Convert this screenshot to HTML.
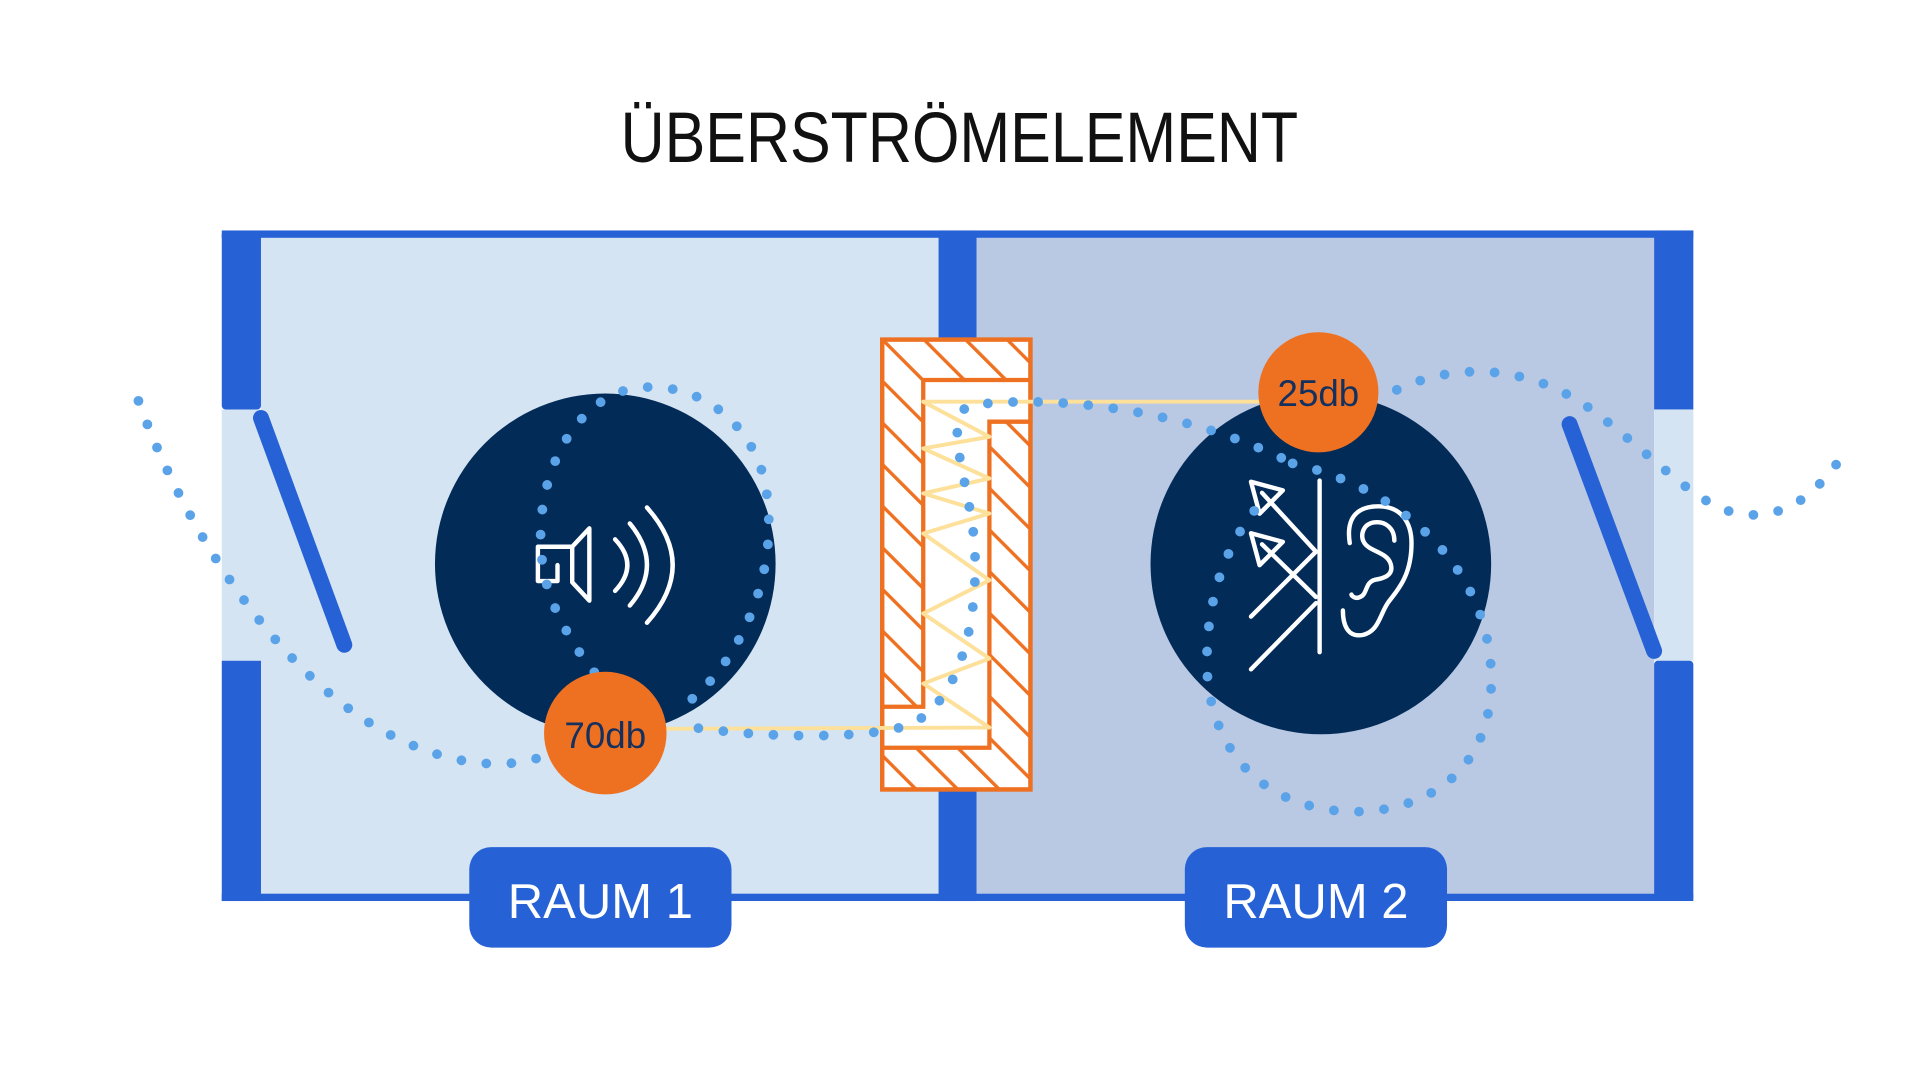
<!DOCTYPE html>
<html><head><meta charset="utf-8"><style>
html,body{margin:0;padding:0;background:#fff;width:1920px;height:1080px;overflow:hidden}
svg{display:block}
</style></head><body>
<svg width="1920" height="1080" viewBox="0 0 1567 881" preserveAspectRatio="none" xmlns="http://www.w3.org/2000/svg">
<defs>
<pattern id="h" patternUnits="userSpaceOnUse" width="24" height="24" patternTransform="rotate(-45)">
<rect width="24" height="24" fill="#fff"/>
<line x1="0" y1="0" x2="0" y2="24" stroke="#ee7122" stroke-width="5.5"/>
</pattern>
</defs>
<rect width="1567" height="881" fill="#fff"/>
<text x="783" y="132" text-anchor="middle" font-family="Liberation Sans, sans-serif" font-size="58" textLength="553" lengthAdjust="spacingAndGlyphs" fill="#111">ÜBERSTRÖMELEMENT</text>

<rect x="213" y="194" width="553" height="535" fill="#d4e4f3"/>
<rect x="797" y="194" width="553" height="535" fill="#b9c8e3"/>
<rect x="181" y="334" width="32" height="205" fill="#d4e4f3"/>
<rect x="1350" y="334" width="32" height="205" fill="#d4e4f3"/>
<rect x="181" y="188" width="1201" height="6" fill="#2662d6"/>
<rect x="181" y="729" width="1201" height="6" fill="#2662d6"/>
<rect x="181" y="188" width="32" height="146" rx="3" fill="#2662d6"/>
<rect x="181" y="539" width="32" height="196" fill="#2662d6"/>
<rect x="1350" y="188" width="32" height="146" fill="#2662d6"/>
<rect x="1350" y="539" width="32" height="196" rx="3" fill="#2662d6"/>
<rect x="766" y="188" width="31" height="547" fill="#2662d6"/>
<line x1="213" y1="341" x2="281" y2="526" stroke="#2662d6" stroke-width="13" stroke-linecap="round"/>
<line x1="1281" y1="346" x2="1350" y2="531" stroke="#2662d6" stroke-width="13" stroke-linecap="round"/>

<circle cx="494" cy="460" r="139" fill="#022b58"/>
<circle cx="1078" cy="460" r="139" fill="#022b58"/>

<g fill="none" stroke="#fff" stroke-width="3.6" stroke-linejoin="round" stroke-linecap="round">
<path d="M455,461 L455,474 L439,474 L439,446 L467,446 L481,431 L481,490 L467,475 L467,446"/>
<path d="M502,440 Q522,461 502,482"/>
<path d="M514,427 Q542,461 514,494"/>
<path d="M528,414 Q570,461 528,508"/>
</g>
<g fill="none" stroke="#fff" stroke-width="3.6" stroke-linejoin="round" stroke-linecap="round">
<line x1="1077" y1="392" x2="1077" y2="532"/>
<line x1="1021" y1="503" x2="1074" y2="450"/>
<line x1="1021" y1="546" x2="1074" y2="492"/>
<line x1="1074" y1="450" x2="1030" y2="402"/>
<line x1="1074" y1="487" x2="1030" y2="444"/>
<path d="M1021,393 L1047,400 L1028,419 Z"/>
<path d="M1021,435 L1047,442 L1028,461 Z"/>
<path d="M1101.6,443 C1098,420 1110,413 1125,413 C1145,413 1152,428 1152,443 C1152,470 1140,482 1134,490 C1126,500 1126,515 1112,518 C1100,520 1096,510 1096,498"/>
<path d="M1138,441 C1138,430 1130,426 1124,426 C1112,426 1110,437 1113,442 C1117,450 1132,450 1135,460 C1138,470 1128,472 1122,473 C1114,475 1116,485 1110,487 C1106,489 1103,486 1103,485"/>
</g>

<rect x="720" y="277" width="121" height="367" fill="url(#h)" stroke="#ee7122" stroke-width="3.5"/>
<path d="M753.5,310 L841,310 L841,344 L807.5,344 L807.5,610 L720,610 L720,576.5 L753.5,576.5 Z" fill="#fff" stroke="#ee7122" stroke-width="3.5"/>
<rect x="720" y="277" width="121" height="367" fill="none" stroke="#ee7122" stroke-width="3.5"/>

<polyline fill="none" stroke="#fde09a" stroke-width="3.2" stroke-linejoin="round" points="1030,327.7 753.5,327.7 807.5,356.3 753.5,365.8 807.5,390.3 753.5,402.5 807.5,418.9 753.5,435.2 807.5,473.3 753.5,500.5 807.5,537.2 753.5,557.6 807.5,593.5 540,594.5"/>

<g fill="none" stroke="#5ba3e8" stroke-width="8" stroke-linecap="round" stroke-dasharray="0 20.5">
<path d="M113,327 C150,430 230,560 330,605 C380,628 420,625 440,618"/>
<path d="M565,570 C612,530 640,450 622,385 C605,330 550,305 505,320 C445,345 425,440 455,500 C465,522 480,545 500,565"/>
<path d="M570,594 C620,601 700,604 740,592 C785,575 800,500 795,440 C790,390 770,345 790,331 C850,322 960,330 1055,378"/>
<path d="M1055,378 C1150,400 1220,470 1217,560 C1214,640 1150,664 1100,662 C1020,658 985,600 985,540 C985,480 1005,440 1025,415"/>
<path d="M1140,318 C1200,290 1260,305 1300,335 C1360,380 1390,420 1430,420 C1470,420 1490,390 1507,368"/>
</g>

<circle cx="494" cy="598" r="50" fill="#ee7122"/>
<text x="494" y="610" text-anchor="middle" font-family="Liberation Sans, sans-serif" font-size="30" fill="#14305e">70db</text>
<circle cx="1076" cy="320" r="49" fill="#ee7122"/>
<text x="1076" y="331" text-anchor="middle" font-family="Liberation Sans, sans-serif" font-size="30" fill="#14305e">25db</text>

<rect x="383" y="691" width="214" height="82" rx="18" fill="#2662d6"/>
<text x="490" y="749" text-anchor="middle" font-family="Liberation Sans, sans-serif" font-size="40" fill="#fff">RAUM 1</text>
<rect x="967" y="691" width="214" height="82" rx="18" fill="#2662d6"/>
<text x="1074" y="749" text-anchor="middle" font-family="Liberation Sans, sans-serif" font-size="40" fill="#fff">RAUM 2</text>
</svg>
</body></html>
